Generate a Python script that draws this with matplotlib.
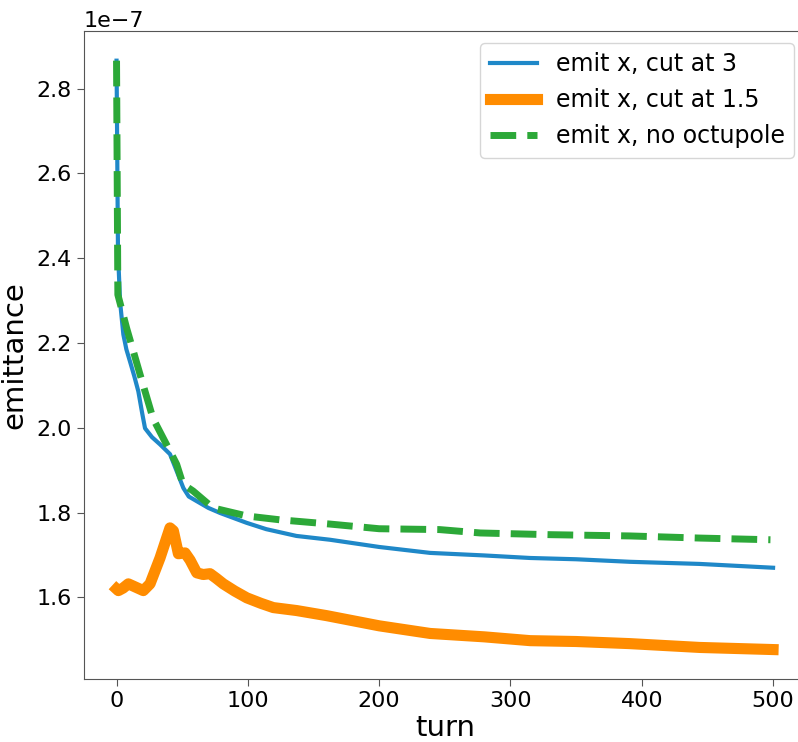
import matplotlib
matplotlib.use("Agg")
import matplotlib.pyplot as plt

# emittance vs turn, read at irregular turns
turn_cut3 = [0, 1.1, 2.7, 5.2, 7.5, 10.3, 13.5, 16.6, 19.5, 21.7, 27, 33.1,
             40.7, 45.8, 50.9, 55, 61.1, 70, 79, 99, 114, 137, 162.6, 200,
             238.8, 280, 315, 350, 391, 444, 500]
emit_cut3 = [2.866, 2.415, 2.297, 2.220, 2.185, 2.156, 2.122, 2.086, 2.035,
             1.999, 1.978, 1.961, 1.938, 1.898, 1.858, 1.838, 1.827, 1.811,
             1.799, 1.776, 1.761, 1.745, 1.736, 1.719, 1.705, 1.699, 1.693,
             1.690, 1.684, 1.679, 1.670]

turn_cut15 = [0, 1.4, 5, 9, 14, 20.4, 25.5, 33.1, 40.7, 43.3, 47.1, 52.2, 56,
              61.1, 66, 71.2, 76, 81.3, 90, 99.2, 110, 119.4, 137.2, 160, 200,
              238.8, 280, 315, 350, 391, 444, 500]
emit_cut15 = [1.620, 1.616, 1.622, 1.632, 1.625, 1.616, 1.632, 1.693, 1.764,
              1.757, 1.703, 1.705, 1.688, 1.658, 1.654, 1.656, 1.645, 1.632,
              1.615, 1.599, 1.586, 1.576, 1.569, 1.557, 1.533, 1.515, 1.507,
              1.498, 1.496, 1.491, 1.482, 1.477]

turn_noocto = [0, 1, 7.8, 17.9, 27.8, 40.7, 45.8, 50.6, 58.3, 73.5, 99.4,
               124.5, 162.6, 200, 246, 277, 330, 391, 444, 498]
emit_noocto = [2.866, 2.314, 2.234, 2.126, 2.022, 1.945, 1.914, 1.867, 1.851,
               1.811, 1.792, 1.783, 1.773, 1.762, 1.760, 1.752, 1.748, 1.745,
               1.740, 1.736]

scale = 1e-7

fig = plt.figure(figsize=(7.98, 7.42), dpi=100)
ax = fig.add_axes([0.1049, 0.0849, 0.905, 0.873])

ax.plot(turn_cut3, [v * scale for v in emit_cut3], color="#1f88c8", lw=3,
        label="emit x, cut at 3")
ax.plot(turn_cut15, [v * scale for v in emit_cut15], color="#ff8c00", lw=8,
        label="emit x, cut at 1.5")
ax.plot(turn_noocto, [v * scale for v in emit_noocto], color="#2ca838", lw=5,
        ls="--", label="emit x, no octupole")

ax.set_xlabel("turn", fontsize=21, labelpad=2)
ax.set_ylabel("emittance", fontsize=21, labelpad=6)
ax.tick_params(labelsize=16, color="#555555", length=5)
ax.yaxis.get_offset_text().set_fontsize(16)
for s in ax.spines.values():
    s.set_color("#555555")

ax.legend(loc="upper right", fontsize=17)

plt.savefig("out.png", dpi=100)
